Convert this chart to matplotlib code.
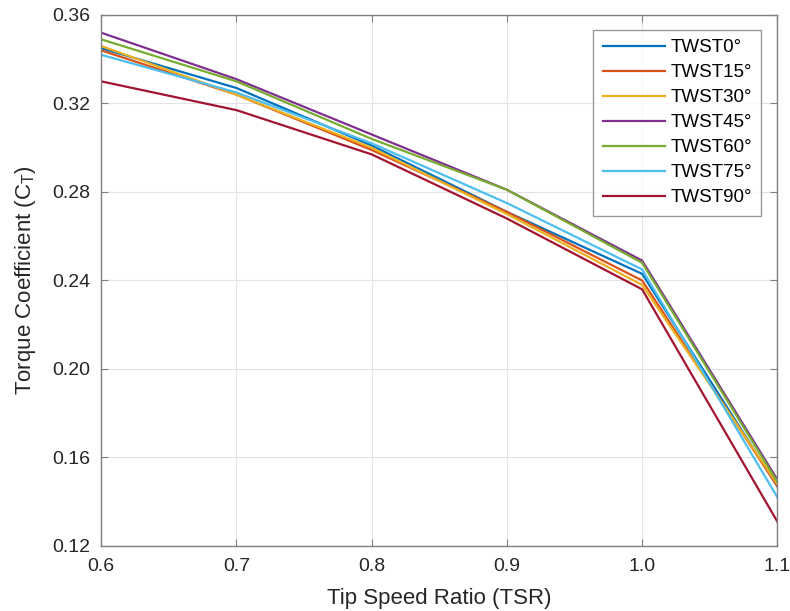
import matplotlib
matplotlib.use("Agg")
import matplotlib.pyplot as plt
from matplotlib.ticker import FormatStrFormatter

tsr = [0.6, 0.7, 0.8, 0.9, 1.0, 1.1]
labels = ["TWST0°", "TWST15°", "TWST30°", "TWST45°", "TWST60°", "TWST75°", "TWST90°"]
twst0 = [0.345, 0.327, 0.301, 0.271, 0.243, 0.147]
twst15 = [0.344, 0.324, 0.299, 0.271, 0.240, 0.147]
twst30 = [0.346, 0.324, 0.300, 0.270, 0.238, 0.148]
twst45 = [0.352, 0.331, 0.306, 0.281, 0.249, 0.150]
twst60 = [0.349, 0.330, 0.304, 0.281, 0.248, 0.149]
twst75 = [0.342, 0.325, 0.302, 0.275, 0.245, 0.142]
twst90 = [0.330, 0.317, 0.297, 0.268, 0.236, 0.131]
series = [twst0, twst15, twst30, twst45, twst60, twst75, twst90]
colors = [(0, 0.447, 0.741), (0.85, 0.325, 0.098), (0.929, 0.694, 0.125),
          (0.494, 0.184, 0.556), (0.466, 0.674, 0.188), (0.301, 0.745, 0.933),
          (0.635, 0.078, 0.184)]

plt.rcParams['font.family'] = ['Liberation Sans', 'DejaVu Sans']
plt.rcParams['mathtext.fontset'] = 'custom'
plt.rcParams['mathtext.rm'] = 'Liberation Sans'
plt.rcParams['mathtext.it'] = 'Liberation Sans'

fig = plt.figure(figsize=(7.9, 6.11), dpi=100)
ax = fig.add_axes([0.128, 0.1064, 0.856, 0.8691])

for ys, lab, c in zip(series, labels, colors):
    ax.plot(tsr, ys, color=c, lw=1.6, label=lab)

ax.set_xlim(0.6, 1.1)
ax.set_ylim(0.12, 0.36)
ax.set_xticks(tsr)
ax.set_yticks([0.12, 0.16, 0.20, 0.24, 0.28, 0.32, 0.36])
ax.xaxis.set_major_formatter(FormatStrFormatter('%.1f'))
ax.yaxis.set_major_formatter(FormatStrFormatter('%.2f'))
ax.grid(True, color='#e3e3e3', lw=0.8)
ax.set_axisbelow(True)
ax.tick_params(direction='in', length=5, labelsize=14, color='#808080',
               labelcolor='#262626', top=True, right=True, width=0.8)
ax.tick_params(axis='x', pad=9)
ax.tick_params(axis='y', pad=8)
for s in ax.spines.values():
    s.set_color('#808080')
    s.set_linewidth(1.0)
ax.set_xlabel('Tip Speed Ratio (TSR)', fontsize=16, color='#262626', labelpad=9)
ax.set_ylabel('Torque Coefficient (C$_\\mathrm{T}$)', fontsize=16, color='#262626', labelpad=10)

leg = ax.legend(loc='upper right', fontsize=13.5, frameon=True, fancybox=False,
                edgecolor='#808080', handlelength=3.3, handletextpad=0.3,
                borderpad=0.5, borderaxespad=0.0,
                labelspacing=0.42, bbox_to_anchor=(0.976, 0.972))
leg.get_frame().set_linewidth(1.0)

fig.savefig('out.png', dpi=100)
